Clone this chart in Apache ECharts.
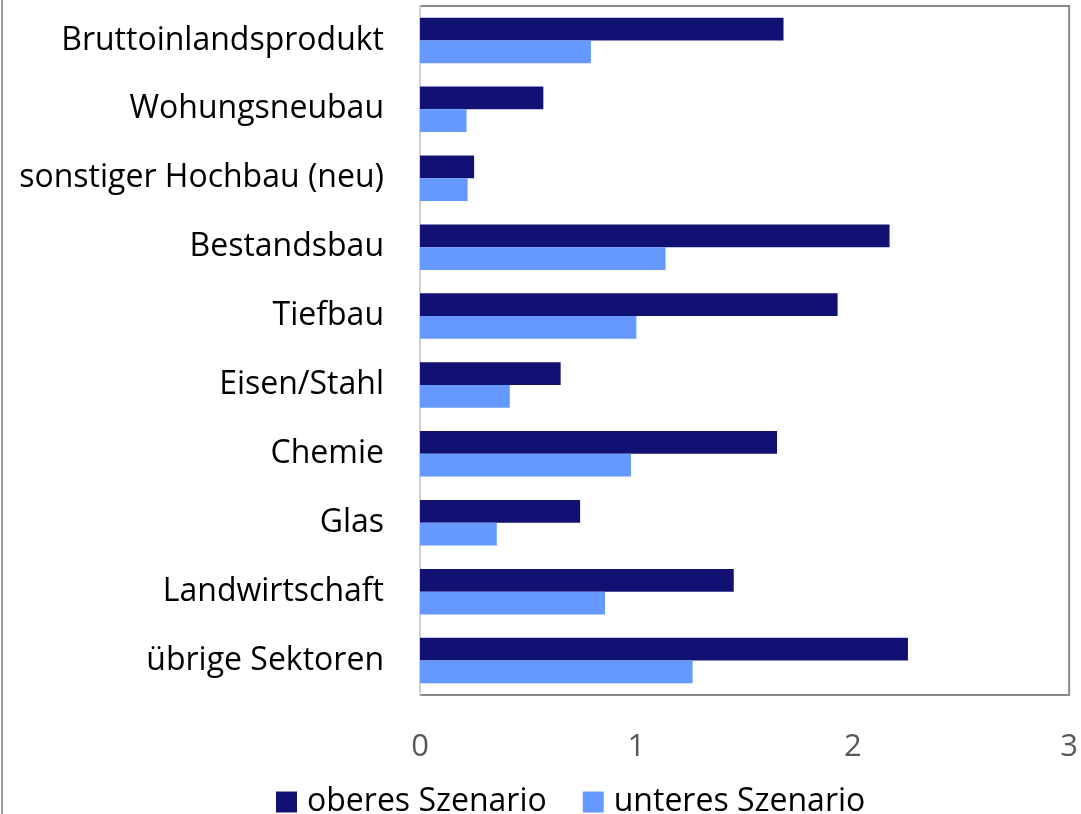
<!DOCTYPE html>
<html>
<head>
<meta charset="utf-8">
<script src="https://cdn.jsdelivr.net/npm/echarts@6/dist/echarts.min.js"></script>
<style>
html,body{margin:0;padding:0;background:#fff;}
#c{width:1081px;height:814px;}
</style>
</head>
<body>
<div id="c"></div>
<script>
const categories = ["Bruttoinlandsprodukt","Wohungsneubau","sonstiger Hochbau (neu)","Bestandsbau","Tiefbau","Eisen/Stahl","Chemie","Glas","Landwirtschaft","übrige Sektoren"];
const seriesNames = ["oberes Szenario","unteres Szenario"];
const oberes = [1.68,0.57,0.25,2.17,1.93,0.65,1.65,0.74,1.45,2.255];
const unteres = [0.79,0.215,0.22,1.135,1.0,0.415,0.975,0.355,0.855,1.26];
const xTicks = [0,1,2,3];

const FONT = "'Open Sans', sans-serif";
const chart = echarts.init(document.getElementById('c'));
chart.setOption({
  animation:false,
  backgroundColor:'#fff',
  textStyle:{fontFamily:FONT},
  graphic:[{type:'line',shape:{x1:2,y1:0,x2:2,y2:814},style:{stroke:'#9a9a9a',lineWidth:2}}],
  legend:{
    left:271, top:781, itemWidth:21, itemHeight:21, itemGap:36,
    icon:'rect',
    textStyle:{fontFamily:FONT,fontSize:32,color:'#000',padding:[0,0,0,5]},
    data:seriesNames
  },
  grid:{left:420,right:10,top:6,bottom:119,show:true,borderColor:'#898989',borderWidth:2,containLabel:false},
  xAxis:{
    type:'value',min:xTicks[0],max:xTicks[xTicks.length-1],interval:1,
    axisLine:{show:false},axisTick:{show:false},splitLine:{show:false},
    axisLabel:{fontFamily:FONT,fontSize:31,color:'#595959',margin:37}
  },
  yAxis:{
    type:'category',data:categories,inverse:true,
    axisLine:{show:true,lineStyle:{color:'#d0d0d0',width:2}},
    axisTick:{show:false},
    axisLabel:{fontFamily:FONT,fontSize:32,color:'#000',margin:36,padding:[4,0,0,0]}
  },
  series:[
    {name:seriesNames[0],type:'bar',data:oberes,barGap:'0%',barCategoryGap:'34%',itemStyle:{color:'#111173'}},
    {name:seriesNames[1],type:'bar',data:unteres,barGap:'0%',barCategoryGap:'34%',itemStyle:{color:'#6699ff'}}
  ]
});
</script>
</body>
</html>
